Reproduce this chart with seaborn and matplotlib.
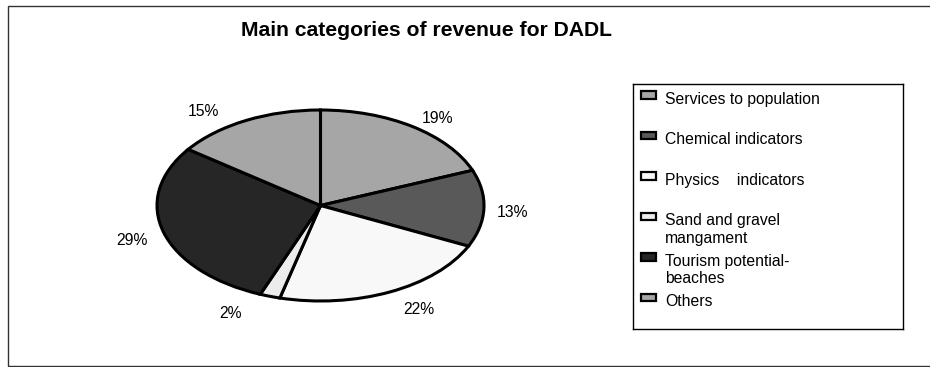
import matplotlib
matplotlib.use("Agg")
import matplotlib.pyplot as plt
from matplotlib.patches import Rectangle
import seaborn as sns

# Revenue categories and their shares (%)
categories = [
    "Services to population",
    "Chemical indicators",
    "Physics    indicators",
    "Sand and gravel\nmangament",
    "Tourism potential-\nbeaches",
    "Others",
]
shares = [19, 13, 22, 2, 29, 15]
slice_colors = ["#A6A6A6", "#595959", "#F8F8F8", "#ECECEC", "#262626", "#A6A6A6"]
title = "Main categories of revenue for DADL"

sns.set_theme(style="white")
plt.rcParams["font.family"] = ["Liberation Sans", "DejaVu Sans"]

W, H = 930, 367
fig = plt.figure(figsize=(W / 100, H / 100), dpi=100)
fig.patch.set_facecolor("white")


def fig_box(left, top, right, bottom):
    """Pixel box (from the top-left corner) -> figure fraction rect."""
    return [left / W, (H - bottom) / H, (right - left) / W, (bottom - top) / H]


# outer chart frame
fig.add_artist(Rectangle((8 / W, 1 / H), (W + 10 - 8) / W, (H - 6 - 1) / H,
                         transform=fig.transFigure, fill=False,
                         edgecolor="#333333", linewidth=1.0))

fig.text(426 / W, 1 - 31 / H, title, ha="center", va="center",
         fontsize=15.2, fontweight="bold", color="black")

# flattened pie: circle drawn in an axes with a non-equal aspect
ax = fig.add_axes(fig_box(157, 110, 484, 301))
labels = [f"{v}%" for v in shares]
wedges, texts = ax.pie(
    shares, colors=slice_colors, labels=labels, startangle=90,
    counterclock=False, labeldistance=1.10,
    wedgeprops=dict(edgecolor="black", linewidth=2.2),
    textprops=dict(fontsize=11.3, color="black"),
)
ax.set_xlim(-1, 1)
ax.set_ylim(-1, 1)
ax.set_aspect("auto")
ax.axis("off")

# some labels are nudged away from the rim
label_shift = {
    1: (-0.02, -0.04),
    2: (0.04, -0.09),
    3: (-0.14, -0.08),
    4: (0.0, -0.06),
    5: (-0.12, 0.0),
}
for i, (dx, dy) in label_shift.items():
    x, y = texts[i].get_position()
    texts[i].set_position((x + dx, y + dy))

# legend panel
lax = fig.add_axes(fig_box(633, 84, 903, 329))
lax.set_xlim(0, 270)
lax.set_ylim(245, 0)
lax.set_xticks([])
lax.set_yticks([])
for s in lax.spines.values():
    s.set_visible(True)
    s.set_color("black")
    s.set_linewidth(1.0)
lax.set_facecolor("white")

pitch = 40.5
for i, (name, col) in enumerate(zip(categories, slice_colors)):
    yc = 14 + i * pitch
    lax.add_patch(Rectangle((8, yc - 7), 15, 7.5, facecolor=col,
                            edgecolor="black", linewidth=1.6))
    lax.text(32, yc - 6, name, ha="left", va="top",
             fontsize=11.3, color="black", linespacing=1.2)

fig.savefig("out.png", dpi=100, facecolor="white")
